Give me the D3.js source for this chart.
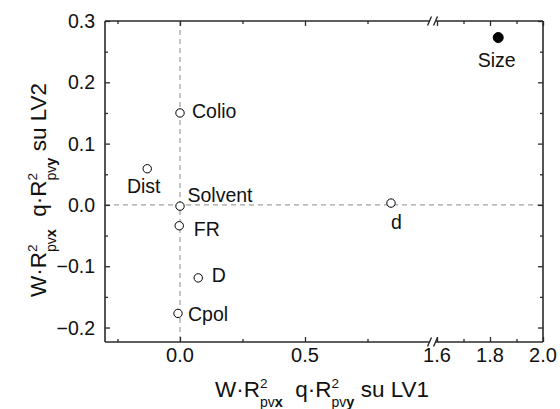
<!DOCTYPE html>
<html><head><meta charset="utf-8">
<script src="https://cdn.jsdelivr.net/npm/d3@7/dist/d3.min.js"></script>
<style>body{margin:0;background:#fff}svg{display:block;font-family:"Liberation Sans",Arial,sans-serif}</style>
</head><body>
<svg id="c" width="560" height="409"></svg>
<script>
// ---- data ----
const names   = ["Size", "Colio", "Dist", "Solvent", "FR", "D", "Cpol", "d"];
const xValues = [1.831, 0.0, -0.131, 0.0, -0.003, 0.073, -0.008, 0.844];
const yValues = [0.273, 0.150, 0.059, -0.002, -0.034, -0.119, -0.177, 0.003];
const filled  = [true, false, false, false, false, false, false, false];
const xMajorTicks = [0.0, 0.5, 1.6, 1.8, 2.0];
const xTickLabels = ["0.0", "0.5", "1.6", "1.8", "2.0"];
const xMinorTicks = [-0.25, 0.25, 0.75, 1.7, 1.9];
const yMajorTicks = [-0.2, -0.1, 0.0, 0.1, 0.2, 0.3];
const yTickLabels = ["\u22120.2", "\u22120.1", "0.0", "0.1", "0.2", "0.3"];
const yMinorTicks = [-0.15, -0.05, 0.05, 0.15, 0.25];

// ---- layout (label offsets relative to points) ----
const labelOffsets = {
  "Size":   {dx: -1.5, dy: 29, anchor: "middle"},
  "Colio":  {dx: 12, dy: 5, anchor: "start"},
  "Dist":   {dx: -3.5, dy: 24, anchor: "middle"},
  "Solvent":{dx: 7.5, dy: -4, anchor: "start"},
  "FR":     {dx: 14.5, dy: 10, anchor: "start"},
  "D":      {dx: 13.5, dy: 4, anchor: "start"},
  "Cpol":   {dx: 10, dy: 7.5, anchor: "start"},
  "d":      {dx: 5.5, dy: 26, anchor: "middle"}
};

const L = 105, R = 543, T = 21, B = 342;
const brkA = 430, brkB = 437;
const x = d3.scaleLinear().domain([-0.3, 1.0, 1.6, 2.0]).range([L, brkA, brkB, R]);
const y = d3.scaleLinear().domain([-0.2236, 0.3]).range([B, T]);

const svg = d3.select("#c");
const axisColor = "#2a2a2a";

// dashed reference lines
svg.append("line").attr("x1", L).attr("x2", R).attr("y1", y(0)).attr("y2", y(0))
  .attr("stroke", "#8a8a8a").attr("stroke-width", 1).attr("stroke-dasharray", "5,4");
svg.append("line").attr("x1", x(0)).attr("x2", x(0)).attr("y1", T).attr("y2", B)
  .attr("stroke", "#8a8a8a").attr("stroke-width", 1).attr("stroke-dasharray", "5,4");

// frame (with breaks on top & bottom)
const frame = svg.append("g").attr("stroke", axisColor).attr("stroke-width", 1.6).attr("fill", "none");
frame.append("line").attr("x1", L).attr("x2", L).attr("y1", T).attr("y2", B);
frame.append("line").attr("x1", R).attr("x2", R).attr("y1", T).attr("y2", B);
[T, B].forEach(yy => {
  frame.append("line").attr("x1", L).attr("x2", brkA).attr("y1", yy).attr("y2", yy);
  frame.append("line").attr("x1", brkB - 1).attr("x2", R).attr("y1", yy).attr("y2", yy);
  frame.append("line").attr("x1", brkA - 2.5).attr("y1", yy + 4.5).attr("x2", brkA + 1.5).attr("y2", yy - 4.5).attr("stroke-width", 1.4);
  frame.append("line").attr("x1", brkB - 3.5).attr("y1", yy + 4.5).attr("x2", brkB + 0.5).attr("y2", yy - 4.5).attr("stroke-width", 1.4);
});

// ticks via d3 axes (inward)
function xAxisGen(orient, ticks, len) {
  return (orient === "bottom" ? d3.axisBottom(x) : d3.axisTop(x))
    .tickValues(ticks).tickSizeInner(-len).tickSizeOuter(0).tickFormat("");
}
function yAxisGen(orient, ticks, len) {
  return (orient === "left" ? d3.axisLeft(y) : d3.axisRight(y))
    .tickValues(ticks).tickSizeInner(-len).tickSizeOuter(0).tickFormat("");
}
function styleAxis(g) {
  g.select(".domain").remove();
  g.selectAll(".tick line").attr("stroke", axisColor).attr("stroke-width", 1.3);
}
svg.append("g").attr("transform", `translate(0,${B})`).call(xAxisGen("bottom", xMajorTicks, 5)).call(styleAxis);
svg.append("g").attr("transform", `translate(0,${B})`).call(xAxisGen("bottom", xMinorTicks, 3)).call(styleAxis);
svg.append("g").attr("transform", `translate(0,${T})`).call(xAxisGen("top", xMajorTicks, 5)).call(styleAxis);
svg.append("g").attr("transform", `translate(0,${T})`).call(xAxisGen("top", xMinorTicks, 3)).call(styleAxis);
svg.append("g").attr("transform", `translate(${L},0)`).call(yAxisGen("left", yMajorTicks, 5)).call(styleAxis);
svg.append("g").attr("transform", `translate(${L},0)`).call(yAxisGen("left", yMinorTicks, 3)).call(styleAxis);
svg.append("g").attr("transform", `translate(${R},0)`).call(yAxisGen("right", yMajorTicks, 5)).call(styleAxis);
svg.append("g").attr("transform", `translate(${R},0)`).call(yAxisGen("right", yMinorTicks, 3)).call(styleAxis);

// tick labels
svg.append("g").selectAll("text").data(xMajorTicks).join("text")
  .attr("x", d => x(d)).attr("y", 362).attr("text-anchor", "middle")
  .attr("font-size", 20).attr("fill", "#111").text((d, i) => xTickLabels[i]);
svg.append("g").selectAll("text").data(yMajorTicks).join("text")
  .attr("x", 95).attr("y", d => y(d) + 7).attr("text-anchor", "end")
  .attr("font-size", 19.5).attr("fill", "#111").text((d, i) => yTickLabels[i]);

// axis titles
function title(t, lv) {
  const a = (s, o) => { const ts = t.append("tspan").text(s); if (o) Object.entries(o).forEach(([k, v]) => ts.attr(k, v)); return ts; };
  a("W·R");
  a("2", {"font-size": 13.5, dy: -9.5});
  a("pv", {"font-size": 14, dx: -7.5, dy: 19});
  a("x", {"font-size": 14.5, "font-weight": "bold"});
  a("  q·R", {dy: -9.5});
  a("2", {"font-size": 13.5, dy: -9.5});
  a("pv", {"font-size": 14, dx: -7.5, dy: 19});
  a("y", {"font-size": 14.5, "font-weight": "bold"});
  a(" su " + lv, {dy: -9.5});
}
const xt = svg.append("text").attr("x", 322).attr("y", 397).attr("text-anchor", "middle")
  .attr("font-size", 22.5).attr("fill", "#111").attr("xml:space", "preserve");
title(xt, "LV1");
const yt = svg.append("text").attr("transform", "translate(46,190) rotate(-90)").attr("text-anchor", "middle")
  .attr("font-size", 22.5).attr("fill", "#111").attr("xml:space", "preserve");
title(yt, "LV2");

// points
const pts = names.map((n, i) => ({n, x: xValues[i], y: yValues[i], f: filled[i]}));
svg.append("g").selectAll("circle").data(pts).join("circle")
  .attr("cx", d => x(d.x)).attr("cy", d => y(d.y)).attr("r", d => d.f ? 5 : 4.2)
  .attr("fill", d => d.f ? "#000" : "#fff").attr("stroke", "#000").attr("stroke-width", 1);
svg.append("g").selectAll("text").data(pts).join("text")
  .attr("x", d => x(d.x) + labelOffsets[d.n].dx).attr("y", d => y(d.y) + labelOffsets[d.n].dy)
  .attr("text-anchor", d => labelOffsets[d.n].anchor)
  .attr("font-size", 19.5).attr("fill", "#111").text(d => d.n);
</script>
</body></html>
